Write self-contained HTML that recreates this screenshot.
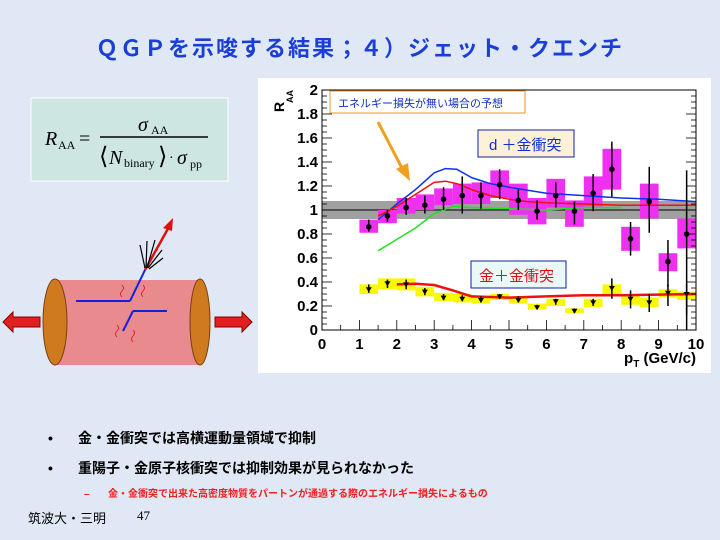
<!DOCTYPE html>
<html><head><meta charset="utf-8"><style>
body{margin:0;width:720px;height:540px;overflow:hidden;background:#dfe8f4;font-family:"Liberation Sans","Noto Sans CJK JP",sans-serif;}
svg{position:absolute;left:0;top:0}
</style></head><body>
<svg id="s" width="720" height="540" xmlns="http://www.w3.org/2000/svg" font-family="Liberation Sans, Noto Sans CJK JP, sans-serif">
<rect width="720" height="540" fill="#dfe8f4"/>
<text x="360" y="56" text-anchor="middle" font-size="22" font-weight="bold" fill="#1a3fd8" letter-spacing="2">ＱＧＰを示唆する結果；４）ジェット・クエンチ</text>
<!-- formula -->
<rect x="31" y="98" width="197" height="83" fill="#cde6e2" stroke="#fff" stroke-width="1"/>
<g font-family="Liberation Serif, serif" fill="#000">
<text x="45" y="145" font-size="20" font-style="italic">R</text><text x="58" y="149" font-size="12">AA</text>
<text x="79" y="145" font-size="20">=</text>
<text x="138" y="131" font-size="20" font-style="italic">σ</text><text x="151" y="134" font-size="12">AA</text>
<line x1="100" y1="137" x2="208" y2="137" stroke="#000" stroke-width="1.5"/>
<text x="99" y="164" font-size="24">⟨</text><text x="109" y="164" font-size="20" font-style="italic">N</text><text x="124" y="167" font-size="12">binary</text><text x="158" y="164" font-size="24">⟩</text>
<text x="169" y="162" font-size="14">·</text><text x="177" y="164" font-size="20" font-style="italic">σ</text><text x="190" y="168" font-size="12">pp</text>
</g>
<!-- cylinder -->
<rect x="55" y="280" width="145" height="85" fill="#e88a8e"/>
<ellipse cx="55" cy="322" rx="12" ry="43" fill="#d07a20" stroke="#7a4010"/>
<ellipse cx="200" cy="322" rx="10" ry="43" fill="#d07a20" stroke="#7a4010"/>
<polygon points="3,322 13,312 13,317 40,317 40,327 13,327 13,332" fill="#e02020" stroke="#800"/>
<polygon points="252,322 242,312 242,317 215,317 215,327 242,327 242,332" fill="#e02020" stroke="#800"/>
<g stroke="#1020e0" stroke-width="2" fill="none">
<line x1="76" y1="301" x2="130" y2="301"/><line x1="130" y1="301" x2="145" y2="270"/>
<line x1="133" y1="311" x2="167" y2="311"/><line x1="133" y1="311" x2="123" y2="331"/>
</g>
<line x1="145" y1="270" x2="170" y2="225" stroke="#e01010" stroke-width="2.5"/>
<polygon points="173,218 163,228 172,231" fill="#e01010"/>
<g stroke="#000" stroke-width="1.2"><line x1="145" y1="268" x2="140" y2="245"/><line x1="146" y1="268" x2="147" y2="241"/><line x1="147" y1="268" x2="155" y2="240"/><line x1="148" y1="268" x2="162" y2="250"/><line x1="149" y1="269" x2="163" y2="258"/></g>
<g stroke="#e01010" fill="none" stroke-width="0.8"><path d="M122 285 q3 3 0 6 q-3 3 0 6"/><path d="M143 285 q3 3 0 6 q-3 3 0 6"/><path d="M117 325 q3 3 0 6 q-3 3 0 6"/><path d="M133 330 q3 3 0 6 q-3 3 0 6"/></g>
<!-- plot panel -->
<rect x="258" y="78" width="453" height="295" fill="#fff"/>
<g id="plot"></g>
<text x="696" y="363" text-anchor="end" font-size="15" font-weight="bold">p<tspan font-size="10" dy="4">T</tspan><tspan dy="-4"> (GeV/c)</tspan></text>
<!-- bottom text -->
<text x="48" y="443" font-size="14" font-weight="bold">•</text>
<text x="78" y="443" font-size="14" font-weight="bold">金・金衝突では高横運動量領域で抑制</text>
<text x="48" y="473" font-size="14" font-weight="bold">•</text>
<text x="78" y="473" font-size="14" font-weight="bold">重陽子・金原子核衝突では抑制効果が見られなかった</text>
<text x="84" y="497" font-size="10" font-weight="bold" fill="#f02020">–</text>
<text x="108" y="497" font-size="10" font-weight="bold" fill="#f02020">金・金衝突で出来た高密度物質をパートンが通過する際のエネルギー損失によるもの</text>
<text x="28" y="523" font-size="13">筑波大・三明</text>
<text x="137" y="520" font-size="13" font-family="Liberation Serif, serif">47</text>
</svg>
<script>
const NS="http://www.w3.org/2000/svg",g=document.getElementById('plot');
const X=v=>322+37.4*v,Y=r=>330-120*r;
function el(t,a,txt){const e=document.createElementNS(NS,t);for(const k in a)e.setAttribute(k,a[k]);if(txt)e.textContent=txt;g.appendChild(e);return e;}
el('rect',{x:X(0),y:Y(1.075),width:X(10)-X(0),height:Y(0.925)-Y(1.075),fill:'#a0a0a0'});
el('line',{x1:X(0),y1:Y(1),x2:X(10),y2:Y(1),stroke:'#000','stroke-width':1});
const d=[[1.25,.86,.81,.92,.82,.92],[1.75,.95,.89,1.0,.9,1.0],[2.25,1.02,.97,1.10,.96,1.1],[2.75,1.04,1.0,1.13,.97,1.12],[3.25,1.09,1.04,1.18,1.0,1.19],[3.75,1.12,1.05,1.22,.97,1.28],[4.25,1.12,1.05,1.23,1.01,1.23],[4.75,1.21,1.10,1.33,1.09,1.34],[5.25,1.08,.96,1.22,1.0,1.17],[5.75,.99,.88,1.10,.92,1.08],[6.25,1.12,1.02,1.26,1.02,1.23],[6.75,.99,.86,1.08,.88,1.07],[7.25,1.14,1.03,1.28,.99,1.3],[7.75,1.34,1.17,1.51,1.11,1.57],[8.25,.76,.66,.86,.62,.9],[8.75,1.07,.93,1.22,.81,1.36],[9.25,.57,.49,.64,.36,.75],[9.75,.8,.68,.93,0,1.33]];
const a=[[1.25,.34,.30,.38,.31,.38],[1.75,.39,.34,.43,.35,.42],[2.25,.38,.33,.43,.34,.42],[2.75,.32,.28,.36,.29,.35],[3.25,.27,.24,.31,.25,.3],[3.75,.26,.23,.30,.24,.29],[4.25,.25,.22,.28,.23,.28],[4.75,.28,.25,.30,.26,.3],[5.25,.25,.22,.28,.23,.28],[5.75,.19,.17,.22,.18,.21],[6.25,.24,.20,.26,.21,.26],[6.75,.16,.14,.18,.14,.18],[7.25,.23,.19,.26,.2,.26],[7.75,.35,.30,.38,.26,.43],[8.25,.26,.21,.29,.18,.33],[8.75,.23,.19,.27,.15,.3],[9.25,.31,.27,.34,.2,.38],[9.75,.30,.25,.32,.13,.38]];
for(const p of d)el('rect',{x:X(p[0]-.25),y:Y(p[3]),width:37.4/2,height:Y(p[2])-Y(p[3]),fill:'#f030f0'});
for(const p of a)el('rect',{x:X(p[0]-.25),y:Y(p[3]),width:37.4/2,height:Y(p[2])-Y(p[3]),fill:'#f8f800'});
function curve(pts,c,w){el('polyline',{points:pts.map(p=>X(p[0])+','+Y(p[1])).join(' '),fill:'none',stroke:c,'stroke-width':w,'stroke-linejoin':'round'});}
curve([[1.5,.92],[2,1.05],[2.5,1.17],[3,1.31],[3.3,1.345],[3.6,1.34],[4,1.27],[4.5,1.22],[5,1.19],[6,1.14],[7,1.12],[8,1.10],[9,1.09],[10,1.07]],'#1030f0',1.5);
curve([[1.5,.95],[2,1.03],[2.5,1.13],[3,1.23],[3.3,1.24],[3.6,1.22],[4,1.17],[4.5,1.12],[5,1.09],[5.5,1.07],[6,1.06],[7,1.05],[8,1.04],[10,1.04]],'#f01010',1.5);
curve([[1.5,.66],[2.5,.85],[3,.97],[3.5,1.03],[4,1.02],[5,1.01],[6,1.0],[7,1.02],[8,1.02]],'#20e020',1.5);
curve([[2,.38],[2.5,.385],[3,.375],[3.5,.33],[4,.28],[4.5,.275],[5,.27],[6,.28],[7,.29],[8,.29],[10,.30]],'#f01010',2.5);
for(const p of d.concat(a)){el('line',{x1:X(p[0]),y1:Y(p[4]),x2:X(p[0]),y2:Y(p[5]),stroke:'#000','stroke-width':1.5});}
for(const p of d)el('circle',{cx:X(p[0]),cy:Y(p[1]),r:2.8,fill:'#000'});
for(const p of a){const x=X(p[0]),y=Y(p[1]);el('polygon',{points:`${x-3},${y-2} ${x+3},${y-2} ${x},${y+3}`,fill:'#000'});}
el('rect',{x:X(0),y:Y(2),width:X(10)-X(0),height:Y(0)-Y(2),fill:'none',stroke:'#000','stroke-width':1});
for(let i=0;i<=40;i++){const r=i*.05,len=i%4==0?10:5;el('line',{x1:X(0),y1:Y(r),x2:X(0)+len,y2:Y(r),stroke:'#000','stroke-width':.8});el('line',{x1:X(10),y1:Y(r),x2:X(10)-len,y2:Y(r),stroke:'#000','stroke-width':.8});}
for(let i=0;i<=20;i++){const v=i*.5,len=i%2==0?10:5;el('line',{x1:X(v),y1:Y(0),x2:X(v),y2:Y(0)-len,stroke:'#000','stroke-width':.8});}
for(let i=0;i<=10;i++)el('text',{x:X(i),y:349,'text-anchor':'middle','font-size':15,'font-weight':'bold'},String(i));
const yl=['0','0.2','0.4','0.6','0.8','1','1.2','1.4','1.6','1.8','2'];
yl.forEach((t,i)=>el('text',{x:318,y:Y(i*.2)+5,'text-anchor':'end','font-size':15,'font-weight':'bold'},t));
el('text',{x:284,y:112,'font-size':14,'font-weight':'bold',transform:'rotate(-90 284 112)'},'R');
el('text',{x:293,y:103,'font-size':9,'font-weight':'bold',transform:'rotate(-90 293 103)'},'AA');
el('rect',{x:330,y:91,width:195,height:22,fill:'#fff',stroke:'#f09020','stroke-width':1});
el('text',{x:338,y:107,'font-size':11,fill:'#1030c0'},'エネルギー損失が無い場合の予想');
el('line',{x1:378,y1:122,x2:403,y2:170,stroke:'#f0a020','stroke-width':3});
el('polygon',{points:'410,181 396,169 408,163',fill:'#f0a020'});
el('rect',{x:478,y:130,width:96,height:27,fill:'#fff0d8',stroke:'#1020a0','stroke-width':1});
el('text',{x:489,y:150,'font-size':15,fill:'#1030d0'},'d ＋金衝突');
el('rect',{x:471,y:261,width:95,height:27,fill:'#eaf8f8',stroke:'#1020a0','stroke-width':1});
el('text',{x:479,y:281,'font-size':15,fill:'#e01010'},'金＋金衝突');
</script>
</body></html>
